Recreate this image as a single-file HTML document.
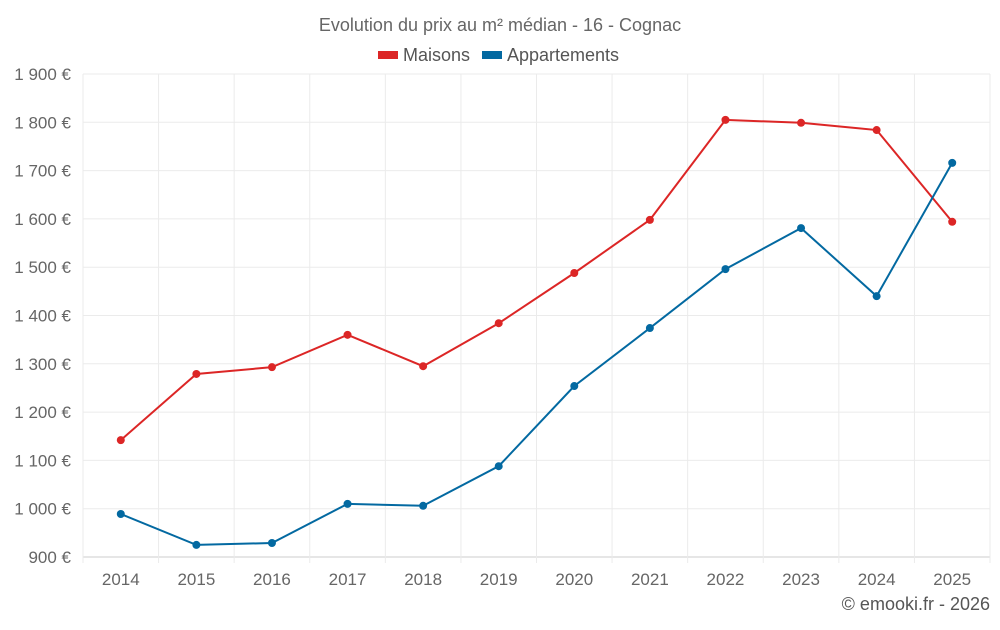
<!DOCTYPE html>
<html><head><meta charset="utf-8"><style>
html,body{margin:0;padding:0;background:#fff;}
svg text{font-family:"Liberation Sans",sans-serif;}
</style></head><body>
<svg id="chart" width="1000" height="625" xmlns="http://www.w3.org/2000/svg">
<text x="500" y="31" text-anchor="middle" font-size="18" fill="#666">Evolution du prix au m² médian - 16 - Cognac</text>
<g>
<g><rect x="378" y="51" width="20" height="8" fill="#dc2626"/><text x="403" y="61" font-size="18" fill="#555">Maisons</text></g>
<g><rect x="482" y="51" width="20" height="8" fill="#0369a1"/><text x="507" y="61" font-size="18" fill="#555">Appartements</text></g>
</g>
<g id="grid"></g><g id="axes"></g><g id="series"></g>
<text x="990" y="610" text-anchor="end" font-size="18" fill="#555">© emooki.fr - 2026</text>
</svg>
<script>
const years=["2014","2015","2016","2017","2018","2019","2020","2021","2022","2023","2024","2025"];
const maisons=[1142,1279,1293,1360,1295,1384,1488,1598,1805,1799,1784,1594];
const appartements=[989,925,929,1010,1006,1088,1254,1374,1496,1581,1440,1716];
const yTicks=[900,1000,1100,1200,1300,1400,1500,1600,1700,1800,1900];
const L=83,R=990,T=74,B=557,yMin=900,yMax=1900;
const NS="http://www.w3.org/2000/svg";
const bw=(R-L)/years.length;
const x=i=>L+bw*(i+0.5);
const y=v=>B-(v-yMin)/(yMax-yMin)*(B-T);
function mk(tag,attrs,parent){const e=document.createElementNS(NS,tag);for(const k in attrs)e.setAttribute(k,attrs[k]);parent.appendChild(e);return e;}
const grid=document.getElementById('grid'),axes=document.getElementById('axes'),ser=document.getElementById('series');
yTicks.forEach(t=>{
 const l=mk('line',{x1:L,x2:R,y1:y(t),y2:y(t),stroke:t===yMin?'#ccc':'#ebebeb','stroke-width':1},grid);
 
 
 const tx=mk('text',{x:71,y:y(t)+6,'text-anchor':'end','font-size':17,fill:'#666'},axes);
 tx.textContent=String(t).replace(/\B(?=(\d{3})+(?!\d))/g,' ')+' €';
 
 
});
for(let i=0;i<=years.length;i++){
 const gx=L+bw*i;
 const l=mk('line',{x1:gx,x2:gx,y1:T,y2:B+6,stroke:'#ebebeb','stroke-width':1},grid);
 
 
}
years.forEach((yr,i)=>{
 const tx=mk('text',{x:x(i),y:585,'text-anchor':'middle','font-size':17,fill:'#666'},axes);
 tx.textContent=yr;
 
 
});
function draw(vals,color,name){
 const p=mk('polyline',{points:vals.map((v,i)=>x(i)+','+y(v)).join(' '),fill:'none',stroke:color,'stroke-width':2},ser);
 
 
 vals.forEach((v,i)=>{
  const c=mk('circle',{cx:x(i),cy:y(v),r:4,fill:color},ser);
  
  
 });
}
draw(maisons,'#dc2626','maisons');
draw(appartements,'#0369a1','appartements');
</script>
</body></html>
